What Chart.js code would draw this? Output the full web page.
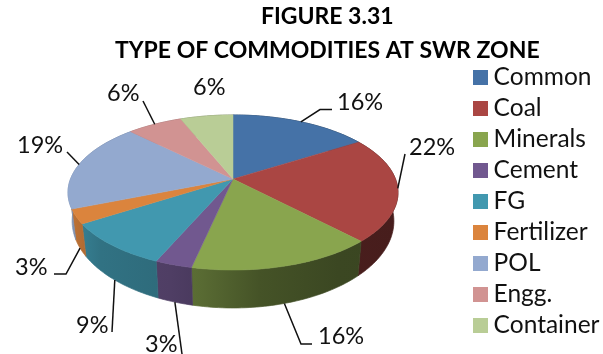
<!DOCTYPE html>
<html>
<head>
<meta charset="utf-8">
<style>
  html, body { margin: 0; padding: 0; background: #fff; }
  canvas { display: block; }
</style>
<script src="https://cdn.jsdelivr.net/npm/chart.js@4"></script>
</head>
<body>
<canvas id="commodities" width="603" height="354"></canvas>
<script>
const commodities = ['Common', 'Coal', 'Minerals', 'Cement', 'FG', 'Fertilizer', 'POL', 'Engg.', 'Container'];
// Shares estimated from the slice edges, they round to the printed percentages
const shares = [16, 21.9, 15.5, 3.1, 9.4, 3, 18.6, 6.4, 6.1];
const titleLines = ['FIGURE 3.31', 'TYPE OF COMMODITIES AT SWR ZONE'];
const sliceColors = ['#4572A7', '#AA4643', '#89A54E', '#71588F', '#4198AF', '#DB843D', '#93A9CF', '#D19392', '#B9CD96'];

// Perspective of the tilted pie, in pixels
const tilt = { cx: 233, cy: 179, sx: 162.5, sy: 75.2, k: 0.174, baseDy: 27, baseScaleX: 0.975, baseScaleY: 1.12 };
// Wall brightness from left to right of the pie
const wallShade = [[0, 0.88], [0.1, 0.75], [0.31, 0.7], [0.4, 0.65], [0.58, 0.5], [0.82, 0.43], [1, 0.42]];
// Label text position and leader elbows, per slice. base: leader starts on the lower rim
const labelSpots = [
    { x: 337, y: 102, leader: [[320, 109.5], [332, 109.5]] },
    { x: 409, y: 147, leader: [[405, 154]] },
    { x: 318, y: 336, leader: [[301, 344], [312, 344]], base: true },
    { x: 145, y: 344, leader: [[182, 354]], base: true },
    { x: 76, y: 325, leader: [[112, 332]], base: true },
    { x: 15, y: 267, leader: [[66, 274], [54, 274]], base: true },
    { x: 17, y: 145, leader: [[67, 152]] },
    { x: 107, y: 93, leader: [[143, 101]] },
    { x: 193, y: 87, leader: null }
];

function topPoint(angle) {
    const w = 1 - tilt.k * Math.sin(angle);
    return [tilt.sx * Math.cos(angle) / w, tilt.sy * Math.sin(angle) / w];
}
function rimPoint(angle) {
    const p = topPoint(angle);
    return [tilt.cx + p[0], tilt.cy + p[1]];
}
function basePoint(angle) {
    const p = topPoint(angle);
    return [tilt.cx + p[0] * tilt.baseScaleX, tilt.cy + tilt.baseDy + p[1] * tilt.baseScaleY];
}
function anglesOf(arc) {
    const steps = Math.max(2, Math.ceil((arc.endAngle - arc.startAngle) / 0.02));
    const out = [];
    for (let i = 0; i <= steps; i++) {
        out.push(arc.startAngle + (arc.endAngle - arc.startAngle) * i / steps);
    }
    return out;
}
function shaded(hex, f) {
    const n = parseInt(hex.slice(1), 16);
    return `rgb(${(n >> 16) * f},${((n >> 8) & 255) * f},${(n & 255) * f})`;
}
function swatch(color) {
    const c = document.createElement('canvas');
    c.width = 15;
    c.height = 15;
    const g = c.getContext('2d');
    g.fillStyle = color;
    g.fillRect(0, 0, 15, 15);
    return c;
}

const tiltedPie = {
    id: 'tiltedPie',
    // The library has computed the slice angles, they get drawn in perspective here
    beforeDatasetsDraw(chart) {
        const ctx = chart.ctx;
        const arcs = chart.getDatasetMeta(0).data;
        ctx.save();
        arcs.forEach((arc, i) => {
            const angles = anglesOf(arc);
            const grad = ctx.createLinearGradient(tilt.cx - 165, 0, tilt.cx + 165, 0);
            wallShade.forEach(s => grad.addColorStop(s[0], shaded(sliceColors[i], s[1])));
            ctx.beginPath();
            angles.forEach(a => ctx.lineTo(...rimPoint(a)));
            angles.slice().reverse().forEach(a => ctx.lineTo(...basePoint(a)));
            ctx.closePath();
            ctx.fillStyle = grad;
            ctx.strokeStyle = grad;
            ctx.lineWidth = 0.7;
            ctx.fill();
            ctx.stroke();
        });
        arcs.forEach((arc, i) => {
            ctx.beginPath();
            ctx.moveTo(tilt.cx, tilt.cy);
            anglesOf(arc).forEach(a => ctx.lineTo(...rimPoint(a)));
            ctx.closePath();
            ctx.fillStyle = sliceColors[i];
            ctx.strokeStyle = sliceColors[i];
            ctx.lineWidth = 0.5;
            ctx.fill();
            ctx.stroke();
        });
        ctx.restore();
        return false;
    },
    afterDraw(chart) {
        const ctx = chart.ctx;
        ctx.save();
        ctx.font = '23.5px Lato';
        ctx.fillStyle = '#111';
        ctx.strokeStyle = '#111';
        ctx.lineWidth = 1.5;
        ctx.textBaseline = 'middle';
        chart.getDatasetMeta(0).data.forEach((arc, i) => {
            const spot = labelSpots[i];
            if (spot.leader) {
                const mid = (arc.startAngle + arc.endAngle) / 2;
                const start = spot.base ? basePoint(mid) : rimPoint(mid);
                ctx.beginPath();
                ctx.moveTo(...start);
                spot.leader.forEach(p => ctx.lineTo(...p));
                ctx.stroke();
            }
            ctx.fillText(Math.round(shares[i]) + '%', spot.x, spot.y);
        });
        ctx.restore();
    }
};

new Chart(document.getElementById('commodities').getContext('2d'), {
    type: 'pie',
    data: {
        labels: commodities,
        datasets: [{ data: shares, backgroundColor: sliceColors, borderWidth: 0 }]
    },
    options: {
        responsive: false,
        animation: false,
        layout: { padding: { left: 45, right: -6.5, bottom: 10 } },
        plugins: {
            title: {
                display: true,
                text: titleLines,
                color: '#000',
                font: { family: 'Lato', size: 23, weight: 'bold', lineHeight: 1.48 },
                padding: { top: 0, bottom: 0 }
            },
            legend: {
                position: 'right',
                align: 'end',
                labels: {
                    usePointStyle: true,
                    boxWidth: 2.5,
                    padding: 6.5,
                    color: '#111',
                    font: { family: 'Lato', size: 24.5 },
                    generateLabels(chart) {
                        return commodities.map((name, i) => ({
                            text: name,
                            index: i,
                            lineWidth: 0,
                            fontColor: '#111',
                            pointStyle: swatch(sliceColors[i])
                        }));
                    }
                }
            },
            tooltip: { enabled: false }
        }
    },
    plugins: [tiltedPie]
});
</script>
</body>
</html>
